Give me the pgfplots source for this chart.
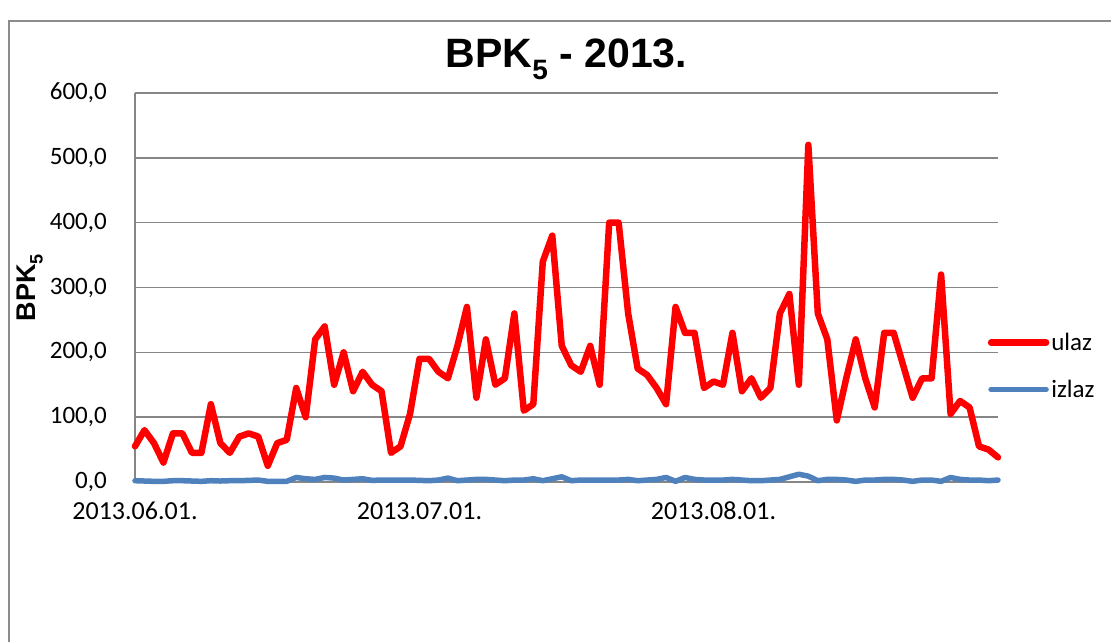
\documentclass[border=0pt]{standalone}
\usepackage{pgfplots}
\usepackage{pgfplotstable}
\pgfplotsset{compat=1.18}
\usepackage{fontspec}
\setmainfont{Carlito}
\newfontfamily\arial{Liberation Sans}
\definecolor{ulazc}{HTML}{FF0000}
\definecolor{izlazc}{HTML}{4F81BD}
\definecolor{gridc}{HTML}{868686}
\definecolor{borderc}{HTML}{8C8C8C}

\pgfplotstableread{
x ulaz izlaz
0 55 2
1 80 1.5
2 60 1
3 30 1
4 75 2
5 75 2
6 45 1.5
7 45 1
8 120 2
9 60 1.5
10 45 2
11 70 2
12 75 2.5
13 70 3
14 25 1
15 60 1
16 65 1
17 145 7
18 100 5
19 220 4
20 240 7
21 150 6
22 200 3
23 140 4
24 170 5
25 150 2.5
26 140 3
27 45 3
28 55 3
29 105 3
30 190 2.5
31 190 2
32 170 3
33 160 6
34 210 2
35 270 3
36 130 4
37 220 4
38 150 3
39 160 2
40 260 3
41 110 3
42 120 5
43 340 2
44 380 5
45 210 8
46 180 2
47 170 3
48 210 3
49 150 3
50 400 3
51 400 3
52 260 4
53 175 2
54 165 3
55 145 4
56 120 7
57 270 1
58 230 7
59 230 4
60 145 3
61 155 3
62 150 3
63 230 4
64 140 3
65 160 2
66 130 2
67 145 3
68 260 4
69 290 8
70 150 12
71 520 9
72 260 2
73 220 4
74 95 4
75 160 3
76 220 1
77 160 3
78 115 3
79 230 4
80 230 4
81 180 3
82 130 1
83 160 3
84 160 3
85 320 1
86 105 7
87 125 4
88 115 3
89 55 3
90 50 2
91 38 3
}\datatable

\begin{document}
\begin{tikzpicture}
\useasboundingbox (-135pt,-160pt) rectangle (976pt,482pt);
\draw[borderc, line width=1.5pt] (-126pt,-170pt) -- (-126pt,461pt) -- (990pt,461pt);
\begin{axis}[
  at={(0pt,0pt)}, anchor=south west,
  scale only axis, width=863pt, height=389pt,
  xmin=0, xmax=91, ymin=0, ymax=600,
  clip=false,
  axis lines*=left,
  axis line style={draw=gridc, line width=1.5pt},
  ymajorgrids, grid style={draw=gridc, line width=1.5pt},
  major tick length=0pt,
  xtick={0,30,61},
  xticklabels={2013.06.01.,2013.07.01.,2013.08.01.},
  ytick={0,100,...,600},
  /pgf/number format/fixed,
  /pgf/number format/fixed zerofill,
  /pgf/number format/precision=1,
  /pgf/number format/use comma,
  /pgf/number format/assume math mode=true,
  yticklabel style={font=\fontsize{25}{30}\selectfont, inner sep=0pt, anchor=east, xshift=-28pt},
  xticklabel style={font=\fontsize{26}{30}\selectfont, inner sep=0pt, anchor=north, yshift=-20pt},
  title={\arial\bfseries BPK\raisebox{-0.28em}{\fontsize{28}{28}\selectfont 5} - 2013.},
  title style={font=\fontsize{41}{46}\selectfont, at={(0.5,1)}, anchor=base, yshift=19pt},
  ylabel={\arial\bfseries BPK\raisebox{-0.25em}{\fontsize{18}{18}\selectfont 5}},
  ylabel style={font=\fontsize{27}{30}\selectfont, at={(axis description cs:-0.1217,0.5)}, anchor=center},
  legend style={draw=none, fill=none, at={(0.988,0.298)}, anchor=west,
    font=\fontsize{25}{30}\selectfont, row sep=24pt, inner sep=0pt,
    /tikz/every even column/.append style={column sep=0pt}},
  legend cell align=left,
  legend image code/.code={\draw[#1] (0pt,0pt) -- (55pt,0pt);},
  every legend entry/.style={xshift=3pt},
]
\addplot[ulazc, line width=6.5pt, line join=round, line cap=round] table[x=x, y=ulaz] {\datatable};
\addlegendentry{ulaz}
\addplot[izlazc, line width=5.5pt, line join=round, line cap=round] table[x=x, y=izlaz] {\datatable};
\addlegendentry{izlaz}
\end{axis}
\end{tikzpicture}
\end{document}
